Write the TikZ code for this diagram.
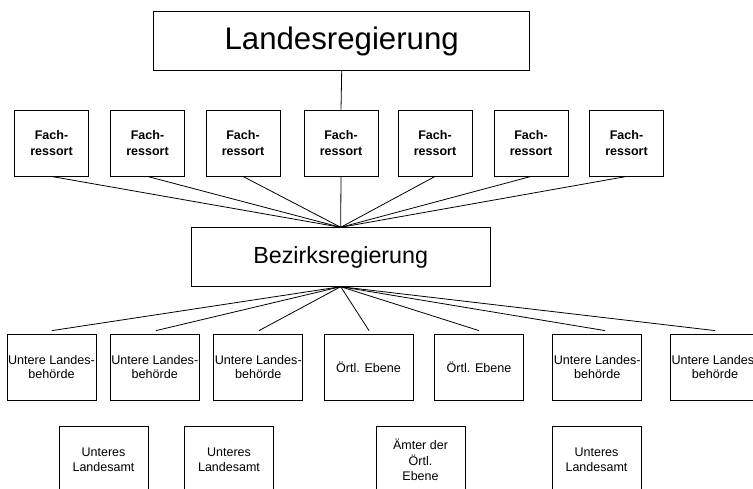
\documentclass[tikz,border=0pt]{standalone}
\usepackage{fontspec}
\setmainfont{Liberation Sans}
\begin{document}
\begin{tikzpicture}[x=1pt,y=-1pt,
  box/.style={draw=black,line width=0.9pt,fill=white,inner sep=0pt,align=center,anchor=center},
  top/.style={box,minimum width=376pt,minimum height=59pt,font=\fontsize{31.2}{36}\selectfont},
  mid/.style={box,minimum width=299pt,minimum height=58.5pt,font=\fontsize{23.3}{28}\selectfont},
  fach/.style={box,minimum width=74pt,minimum height=66pt,font=\fontsize{12.5}{16}\selectfont\bfseries},
  low/.style={box,minimum width=89pt,minimum height=66.5pt,font=\fontsize{12.6}{14.3}\selectfont},
  bot/.style={box,minimum width=89pt,minimum height=68pt,font=\fontsize{12.5}{15.5}\selectfont},
  conn/.style={draw=black,line width=0.8pt}]
\useasboundingbox (0,0) rectangle (753,488);
\fill[white] (0,0) rectangle (753,488);

\node[top] (L) at (341.7,41.2) {Landesregierung};

\node[fach] (f1) at (51.5,143) {Fach-\\ressort};
\node[fach] (f2) at (147.5,143) {Fach-\\ressort};
\node[fach] (f3) at (243,143) {Fach-\\ressort};
\node[fach] (f4) at (341,143) {Fach-\\ressort};
\node[fach] (f5) at (435,143) {Fach-\\ressort};
\node[fach] (f6) at (531,143) {Fach-\\ressort};
\node[fach] (f7) at (626.5,143) {Fach-\\ressort};

\node[mid] (B) at (340.7,257) {Bezirksregierung};

\node[low] (u1) at (51.5,367.3) {Untere Landes-\\behörde};
\node[low] (u2) at (154.8,367.3) {Untere Landes-\\behörde};
\node[low] (u3) at (258.3,367.3) {Untere Landes-\\behörde};
\node[low] (u4) at (368.5,367.3) {Örtl. Ebene};
\node[low] (u5) at (479,367.3) {Örtl. Ebene};
\node[low] (u6) at (597.2,367.3) {Untere Landes-\\behörde};
\node[low] (u7) at (715,367.3) {Untere Landes-\\behörde};

\node[bot] (b1) at (103.5,460) {Unteres\\Landesamt};
\node[bot] (b2) at (229,460) {Unteres\\Landesamt};
\node[bot] (b3) at (420.5,460) {Ämter der\\Örtl.\\Ebene};
\node[bot] (b4) at (596.5,460) {Unteres\\Landesamt};

\draw[conn] (L.south) -- (f4.north);
\foreach \i in {1,...,7} {\draw[conn] (f\i.south) -- (B.north);}

\coordinate (t1) at ([xshift=0.5pt,yshift=3pt]u1.north);
\coordinate (t2) at ([xshift=1.2pt,yshift=3pt]u2.north);
\coordinate (t3) at ([xshift=0.7pt,yshift=3pt]u3.north);
\coordinate (t4) at ([xshift=0.5pt,yshift=3pt]u4.north);
\coordinate (t5) at ([xshift=0pt,yshift=3pt]u5.north);
\coordinate (t6) at ([xshift=7.8pt,yshift=3pt]u6.north);
\coordinate (t7) at ([xshift=0pt,yshift=3pt]u7.north);
\foreach \i in {1,...,7} {\draw[conn] (B.south) -- (t\i);}
\end{tikzpicture}
\end{document}
